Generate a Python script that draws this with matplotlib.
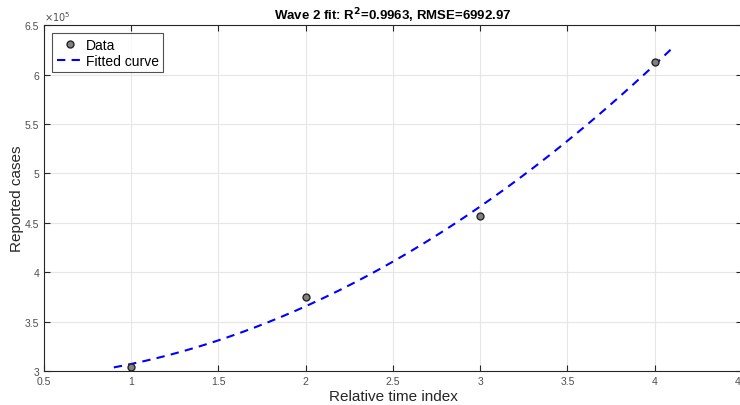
import numpy as np
import matplotlib.pyplot as plt

plt.rcParams['font.family'] = ['Liberation Sans', 'DejaVu Sans']

# data
x_data = [1, 2, 3, 4]
y_data = [3.04e5, 3.75e5, 4.57e5, 6.13e5]

x_ticks = [0.5, 1, 1.5, 2, 2.5, 3, 3.5, 4, 4.5]
x_tick_labels = ['0.5', '1', '1.5', '2', '2.5', '3', '3.5', '4', '4.5']
y_ticks = [3e5, 3.5e5, 4e5, 4.5e5, 5e5, 5.5e5, 6e5, 6.5e5]
y_tick_labels = ['3', '3.5', '4', '4.5', '5', '5.5', '6', '6.5']

# quadratic fit, as in the original analysis
coef = np.polyfit(x_data, y_data, 2)
x_fit = np.linspace(min(x_data) - 0.1, max(x_data) + 0.1, 200)
y_fit = np.polyval(coef, x_fit)

fig = plt.figure(figsize=(7.4, 4.06), dpi=100)
ax = fig.add_axes([0.0595, 0.0837, 0.943, 0.852])

ax.plot(x_data, y_data, 'o', color='#262626', markerfacecolor='#808080',
        markersize=5, markeredgewidth=1.0, label='Data', zorder=3)
ax.plot(x_fit, y_fit, '--', color='#0000ff', linewidth=1.5,
        dashes=(4, 3), label='Fitted curve', zorder=2)

ax.set_xlim(0.5, 4.5)
ax.set_ylim(3e5, 6.5e5)
ax.set_xticks(x_ticks)
ax.set_xticklabels(x_tick_labels)
ax.set_yticks(y_ticks)
ax.set_yticklabels(y_tick_labels)

ax.grid(True, color='#e6e6e6', linewidth=0.8)
ax.set_axisbelow(True)
ax.tick_params(direction='in', length=4, width=0.8, colors='#262626',
               labelsize=7.5, top=True, right=True, labelcolor='#4d4d4d')
for s in ax.spines.values():
    s.set_color('#262626')
    s.set_linewidth(0.8)

ax.text(0.0, 1.005, r'$\times10^5$', transform=ax.transAxes,
        fontsize=7, color='#4d4d4d', ha='left', va='bottom')

ax.set_xlabel('Relative time index', fontsize=11, color='#262626')
ax.set_ylabel('Reported cases', fontsize=11, color='#262626')
ax.xaxis.set_label_coords(0.5, -0.052)
ax.yaxis.set_label_coords(-0.028, 0.5)
ax.set_title(r'Wave 2 fit: R$^\mathbf{2}$=0.9963, RMSE=6992.97',
             fontsize=9.5, fontweight='bold', color='black', pad=4)

leg = ax.legend(loc='upper left', fontsize=10, frameon=True, fancybox=False,
                borderpad=0.3, handlelength=2.0, handletextpad=0.1,
                labelspacing=0.15, borderaxespad=0.6)
leg.get_frame().set_edgecolor('#262626')
leg.get_frame().set_linewidth(0.8)

fig.savefig('out.png', dpi=100)
